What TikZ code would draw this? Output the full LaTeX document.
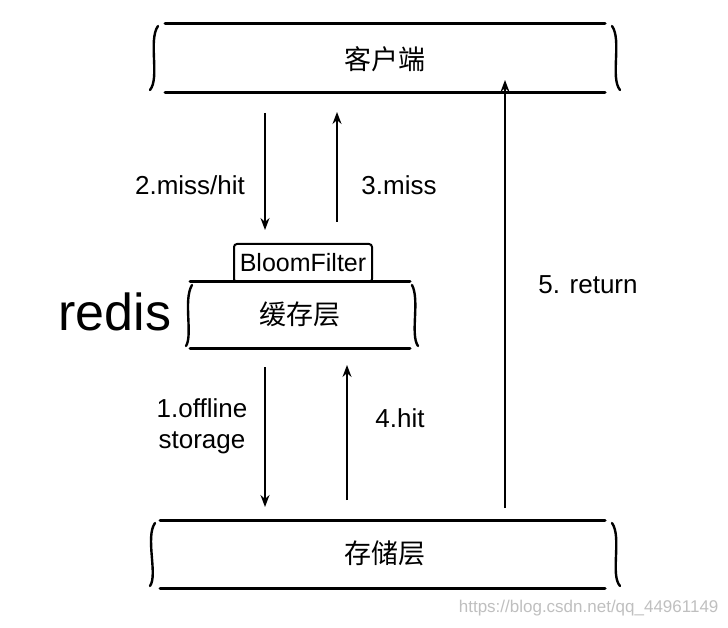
\documentclass[tikz,border=0pt]{standalone}
\usepackage{fontspec}
\setmainfont{Liberation Sans}
\newfontfamily\cjk{Noto Sans CJK SC}
\usetikzlibrary{arrows.meta}
\begin{document}
\begin{tikzpicture}[x=1pt,y=-1pt,
  bar/.style={line width=3pt,line cap=round},
  brk/.style={line width=2.4pt,line cap=round},
  arr/.style={line width=1.6pt,-{Stealth[length=12pt,width=9pt]}},
  lbl/.style={font=\fontsize{26}{31}\selectfont},
  cn/.style={font=\cjk\fontsize{27}{30}\selectfont}]
\useasboundingbox (0,0) rectangle (728,628);
% top box
\draw[bar] (165,24) -- (605,24);
\draw[bar] (165,93) -- (605,93);
\draw[brk] (158,26) .. controls (148,40) and (160,78) .. (150,90);
\draw[brk] (612,26) .. controls (622,40) and (610,78) .. (620,90);
\node[cn] (client) at (385,59) {客户端};
% middle box
\draw[bar] (190,282) -- (410,282);
\draw[bar] (190,348) -- (410,348);
\draw[brk] (192,285) .. controls (183,300) and (193,335) .. (186,346);
\draw[brk] (412,285) .. controls (420,300) and (410,335) .. (418,346);
\node[cn] (cache) at (300,314) {缓存层};
\node[draw,line width=2pt,rounded corners=3pt,minimum width=138pt,minimum height=38pt,font=\fontsize{25}{28}\selectfont,inner sep=1pt] (bloom) at (303,263) {BloomFilter};
\node[font=\fontsize{52}{58}\selectfont] (redis) at (115,312) {redis};
% bottom box
\draw[bar] (160,520) -- (605,520);
\draw[bar] (160,588) -- (605,588);
\draw[brk] (155,523) .. controls (145,537) and (158,575) .. (150,586);
\draw[brk] (612,523) .. controls (622,537) and (610,575) .. (620,586);
\node[cn] (store) at (385,553) {存储层};
% arrows
\coordinate (a2s) at (265,113); \coordinate (a2e) at (265,230);
\coordinate (a3s) at (337,222); \coordinate (a3e) at (337,112);
\coordinate (a5s) at (505,508); \coordinate (a5e) at (505,80);
\coordinate (a1s) at (265,367); \coordinate (a1e) at (265,507);
\coordinate (a4s) at (347,500); \coordinate (a4e) at (347,365);
\draw[arr] (a2s) -- (a2e);
\draw[arr] (a3s) -- (a3e);
\draw[arr] (a5s) -- (a5e);
\draw[arr] (a1s) -- (a1e);
\draw[arr] (a4s) -- (a4e);
\node[lbl] (l2) at (190,185) {2.miss/hit};
\node[lbl] (l3) at (399,185) {3.miss};
\node[lbl] (l5) at (588,285) {5. return};
\node[lbl,align=center] (l1) at (202,426) {1.offline\\storage};
\node[lbl] (l4) at (400,418) {4.hit};
\node[text=black!25,font=\fontsize{17}{20}\selectfont,anchor=east] (wm) at (722,608) {https://blog.csdn.net/qq\_44961149};
\end{tikzpicture}
\end{document}
